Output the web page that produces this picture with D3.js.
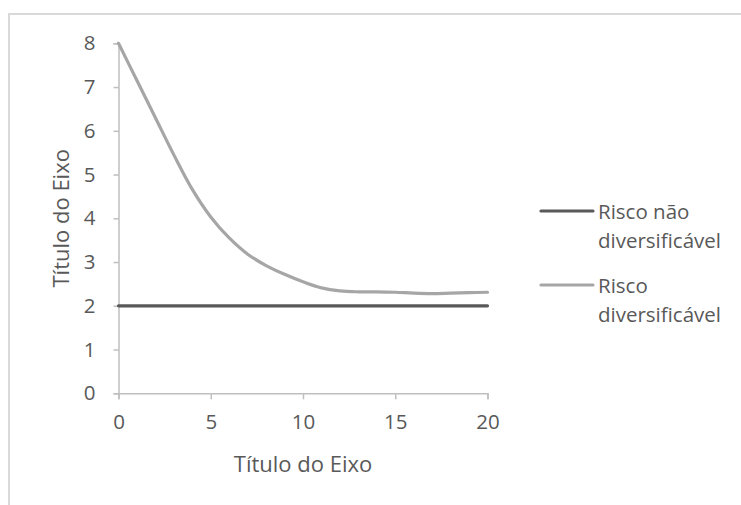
<!DOCTYPE html>
<html>
<head>
<meta charset="utf-8">
<script src="https://cdn.jsdelivr.net/npm/d3@7"></script>
<style>
  body { margin: 0; background: #fff; }
  svg text { font-family: "Open Sans", sans-serif; fill: #595959; }
</style>
</head>
<body>
<svg id="chart" width="741" height="505"></svg>
<script>
// data
var xValues = [0, 1, 2, 3, 4, 5, 6, 7, 8, 9, 10, 11, 12, 13, 14, 15, 16, 17, 18, 19, 20];
var naoDiversificavel = [2, 2, 2, 2, 2, 2, 2, 2, 2, 2, 2, 2, 2, 2, 2, 2, 2, 2, 2, 2, 2];
var diversificavel = [8, 7.15, 6.3, 5.45, 4.66, 4.03, 3.55, 3.18, 2.92, 2.72, 2.55, 2.41, 2.34, 2.32, 2.32, 2.31, 2.29, 2.28, 2.29, 2.3, 2.31];
var yTicks = [0, 1, 2, 3, 4, 5, 6, 7, 8];
var xTicks = [0, 5, 10, 15, 20];
var seriesNames = [['Risco não', 'diversificável'], ['Risco', 'diversificável']];
var seriesColors = ['#595959', '#a6a6a6'];

(function() {
  var svg = d3.select('#chart');

  // outer chart border (runs off the right and bottom of the picture)
  svg.append('rect')
    .attr('x', 9).attr('y', 14)
    .attr('width', 800).attr('height', 600)
    .attr('fill', 'none')
    .attr('stroke', '#d9d9d9')
    .attr('stroke-width', 2);

  var plot = { left: 118.5, right: 487.5, top: 43.3, bottom: 393.3 };

  var x = d3.scaleLinear().domain([0, 20]).range([plot.left, plot.right]);
  var y = d3.scaleLinear().domain([0, 8]).range([plot.bottom, plot.top]);

  var yAxis = svg.append('g')
    .attr('transform', `translate(${plot.left},0)`)
    .call(d3.axisLeft(y).tickValues(yTicks).tickSize(5).tickPadding(18));

  var xAxis = svg.append('g')
    .attr('transform', `translate(0,${plot.bottom})`)
    .call(d3.axisBottom(x).tickValues(xTicks).tickSize(6).tickPadding(15));

  [yAxis, xAxis].forEach(function(a) {
    a.select('.domain').attr('stroke', '#bfbfbf').attr('stroke-width', 1.5);
    a.selectAll('.tick line').attr('stroke', '#bfbfbf').attr('stroke-width', 1.5);
    a.selectAll('.tick text').attr('font-size', 20.5).attr('fill', '#595959')
      .style('font-family', '"Open Sans", sans-serif');
  });

  // axis titles
  svg.append('text')
    .attr('x', (plot.left + plot.right) / 2).attr('y', 472)
    .attr('text-anchor', 'middle')
    .attr('font-size', 22)
    .text('Título do Eixo');

  svg.append('text')
    .attr('transform', `translate(69,${(plot.top + plot.bottom) / 2}) rotate(-90)`)
    .attr('text-anchor', 'middle')
    .attr('font-size', 22)
    .text('Título do Eixo');

  var line = d3.line()
    .x(function(d, i) { return x(xValues[i]); })
    .y(function(d) { return y(d); })
    .curve(d3.curveCatmullRom.alpha(0.5));

  [naoDiversificavel, diversificavel].forEach(function(s, i) {
    svg.append('path')
      .datum(s)
      .attr('d', line)
      .attr('fill', 'none')
      .attr('stroke', seriesColors[i])
      .attr('stroke-width', 3.2)
      .attr('stroke-linecap', 'round');
  });

  // legend
  var legendY = [211, 285];
  var legend = svg.append('g');
  seriesNames.forEach(function(parts, i) {
    legend.append('line')
      .attr('x1', 541).attr('x2', 593)
      .attr('y1', legendY[i]).attr('y2', legendY[i])
      .attr('stroke', seriesColors[i])
      .attr('stroke-width', 3.2)
      .attr('stroke-linecap', 'round');
    var t = legend.append('text')
      .attr('x', 598).attr('y', legendY[i] + 8)
      .attr('font-size', 20.5);
    parts.forEach(function(p, j) {
      t.append('tspan').attr('x', 598).attr('dy', j === 0 ? 0 : 29).text(p);
    });
  });
})();
</script>
</body>
</html>
